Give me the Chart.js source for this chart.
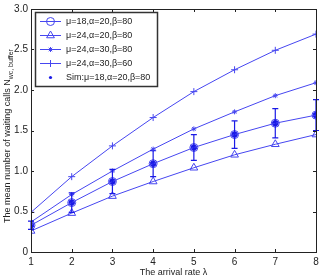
<!DOCTYPE html>
<html>
<head>
<meta charset="utf-8">
<script src="https://cdn.jsdelivr.net/npm/chart.js@4"></script>
<style>
  html, body { margin: 0; padding: 0; background: #fff; }
  #wrap { width: 324px; height: 278px; }
</style>
</head>
<body>
<div id="wrap"><canvas id="myChart" width="324" height="278"></canvas></div>
<script>
let arrival_rates = [1, 2, 3, 4, 5, 6, 7, 8];
let mu18_a20_b80 = [0.33, 0.61, 0.87, 1.09, 1.29, 1.45, 1.59, 1.69];
let mu24_a20_b80 = [0.26, 0.48, 0.69, 0.87, 1.04, 1.20, 1.33, 1.45];
let mu24_a30_b80 = [0.37, 0.71, 1.00, 1.27, 1.52, 1.73, 1.93, 2.09];
let mu24_a30_b60 = [0.49, 0.93, 1.31, 1.66, 1.98, 2.25, 2.49, 2.69];
let sim_mean = [0.33, 0.61, 0.87, 1.09, 1.29, 1.45, 1.59, 1.69];
let sim_err = [0.05, 0.12, 0.15, 0.16, 0.16, 0.17, 0.18, 0.19];
let y_ticks = [0, 0.5, 1, 1.5, 2, 2.5, 3];

let lineColor = "#4646f0";
let simColor = "#1a1ae6";
let font = "'Liberation Sans', Arial, sans-serif";

function pts(values) {
    return values.map((v, i) => ({ x: arrival_rates[i], y: v }));
}

let datasets = [
    { label: "μ=18,α=20,β=80", data: pts(mu18_a20_b80), pointStyle: "circle", pointRadius: 4 },
    { label: "μ=24,α=20,β=80", data: pts(mu24_a20_b80), pointStyle: "triangle", pointRadius: 4.5 },
    { label: "μ=24,α=30,β=80", data: pts(mu24_a30_b80), pointStyle: "star", pointRadius: 2.5 },
    { label: "μ=24,α=30,β=60", data: pts(mu24_a30_b60), pointStyle: "cross", pointRadius: 3.5 }
].map(d => Object.assign(d, {
    borderColor: lineColor, borderWidth: 1, backgroundColor: "rgba(0,0,0,0)",
    pointBorderColor: lineColor, pointBackgroundColor: "rgba(0,0,0,0)", pointBorderWidth: 1,
    showLine: true, tension: 0
}));

datasets.push({
    label: "Sim:μ=18,α=20,β=80", data: pts(sim_mean), showLine: false,
    pointStyle: "circle", pointRadius: 2.8, pointBackgroundColor: simColor,
    pointBorderColor: simColor, borderColor: simColor, backgroundColor: simColor
});

// error bars, frame, inward ticks, legend and y title
let decorations = {
    id: "decorations",
    afterDatasetsDraw(chart) {
        let ctx = chart.ctx, xs = chart.scales.x, ys = chart.scales.y, a = chart.chartArea;
        ctx.save();
        // error bars
        ctx.strokeStyle = simColor;
        ctx.lineWidth = 1.2;
        sim_mean.forEach((m, i) => {
            let px = xs.getPixelForValue(arrival_rates[i]);
            let top = ys.getPixelForValue(m + sim_err[i]);
            let bot = ys.getPixelForValue(m - sim_err[i]);
            ctx.beginPath();
            ctx.moveTo(px, top); ctx.lineTo(px, bot);
            ctx.moveTo(px - 3, top); ctx.lineTo(px + 3, top);
            ctx.moveTo(px - 3, bot); ctx.lineTo(px + 3, bot);
            ctx.stroke();
        });
        // frame
        ctx.strokeStyle = "#222";
        ctx.lineWidth = 1;
        ctx.strokeRect(Math.round(a.left) + 0.5, Math.round(a.top) + 0.5,
            Math.round(a.right - a.left), Math.round(a.bottom - a.top));
        // inward ticks
        ctx.beginPath();
        arrival_rates.forEach(v => {
            let px = Math.round(xs.getPixelForValue(v)) + 0.5;
            ctx.moveTo(px, a.bottom); ctx.lineTo(px, a.bottom - 3);
            ctx.moveTo(px, a.top); ctx.lineTo(px, a.top + 3);
        });
        y_ticks.forEach(v => {
            let py = Math.round(ys.getPixelForValue(v)) + 0.5;
            ctx.moveTo(a.left, py); ctx.lineTo(a.left + 3, py);
            ctx.moveTo(a.right, py); ctx.lineTo(a.right - 3, py);
        });
        ctx.stroke();
        // legend
        let lx = 35, ly = 12, lw = 122, lh = 74;
        ctx.fillStyle = "#fff";
        ctx.fillRect(lx, ly, lw, lh);
        ctx.lineWidth = 1.5;
        ctx.strokeStyle = "#333";
        ctx.strokeRect(lx + 0.5, ly + 0.5, lw, lh);
        ctx.font = "9px " + font;
        ctx.textBaseline = "middle";
        chart.data.datasets.forEach((d, i) => {
            let y = ly + 9.5 + i * 14;
            if (d.showLine) {
                ctx.strokeStyle = lineColor;
                ctx.lineWidth = 1;
                ctx.beginPath();
                ctx.moveTo(lx + 5, y); ctx.lineTo(lx + 26, y);
                ctx.stroke();
                ctx.fillStyle = "rgba(0,0,0,0)";
                Chart.helpers.drawPoint(ctx, {
                    pointStyle: d.pointStyle, radius: d.pointRadius,
                    borderWidth: 1, rotation: 0
                }, lx + 15.5, y);
            } else {
                ctx.fillStyle = simColor;
                ctx.beginPath();
                ctx.arc(lx + 15.5, y, 1.6, 0, Math.PI * 2);
                ctx.fill();
            }
            ctx.fillStyle = "#222";
            ctx.fillText(d.label, lx + 31, y);
        });
        // y title with subscript
        ctx.translate(8, 136);
        ctx.rotate(-Math.PI / 2);
        ctx.fillStyle = "#222";
        ctx.textBaseline = "middle";
        let main = "The mean number of waiting calls N";
        let sub = "wc, buffer";
        ctx.font = "9px " + font;
        let w1 = ctx.measureText(main).width;
        ctx.font = "7px " + font;
        let w2 = ctx.measureText(sub).width;
        let start = -(w1 + w2) / 2;
        ctx.font = "9px " + font;
        ctx.textAlign = "left";
        ctx.fillText(main, start, 0);
        ctx.font = "7px " + font;
        ctx.fillText(sub, start + w1, 3);
        ctx.restore();
    }
};

new Chart(document.getElementById("myChart").getContext("2d"), {
    type: "scatter",
    data: { datasets: datasets },
    options: {
        responsive: false,
        animation: false,
        devicePixelRatio: 1,
        layout: { padding: { top: 6, right: 8, left: 0, bottom: 0 } },
        plugins: { legend: { display: false }, tooltip: { enabled: false } },
        scales: {
            x: {
                min: 1, max: 8,
                grid: { display: false, drawTicks: false },
                border: { display: false },
                ticks: { stepSize: 1, color: "#222", font: { family: font, size: 10 }, padding: 4 },
                title: { display: true, text: "The arrival rate λ", color: "#222",
                    font: { family: font, size: 9 }, padding: { top: 0, bottom: 0 } },
                afterFit(s) { s.height = 26; }
            },
            y: {
                min: 0, max: 3,
                grid: { display: false, drawTicks: false },
                border: { display: false },
                ticks: { stepSize: 0.5, color: "#222", font: { family: font, size: 10 }, padding: 3 },
                afterFit(s) { s.width = 31; }
            }
        }
    },
    plugins: [decorations]
});
</script>
</body>
</html>
